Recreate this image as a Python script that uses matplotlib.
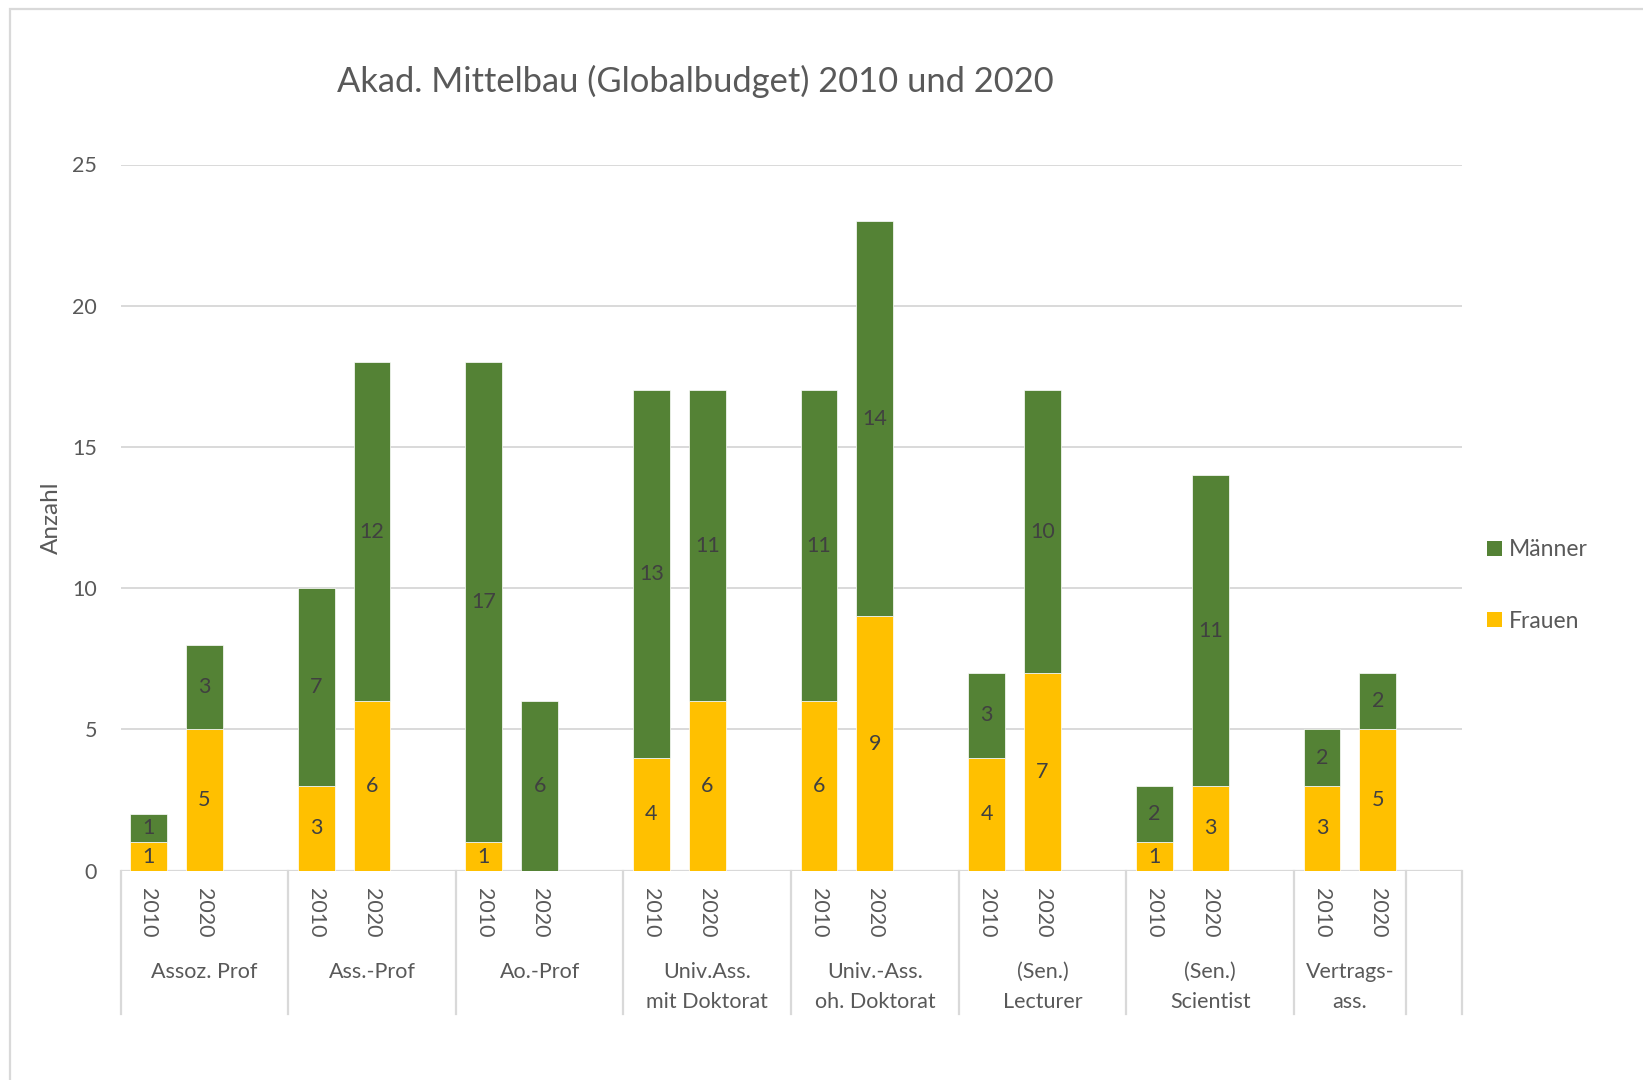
import matplotlib
matplotlib.use("Agg")
import matplotlib.pyplot as plt
import matplotlib.transforms as mtransforms
from matplotlib.patches import Rectangle, Patch

plt.rcParams['font.family'] = ['Lato', 'DejaVu Sans']

# Data
groups = ["Assoz. Prof", "Ass.-Prof", "Ao.-Prof", "Univ.Ass.\nmit Doktorat",
          "Univ.-Ass.\noh. Doktorat", "(Sen.)\nLecturer", "(Sen.)\nScientist",
          "Vertrags-\nass."]
years = ["2010", "2020"]
frauen = [[1, 5], [3, 6], [1, 0], [4, 6], [6, 9], [4, 7], [1, 3], [3, 5]]
maenner = [[1, 3], [7, 12], [17, 6], [13, 11], [11, 14], [3, 10], [2, 11], [2, 2]]
yticks = [0, 5, 10, 15, 20, 25]

GREEN = "#548235"
YELLOW = "#FFC000"
TXT = "#595959"
LBL = "#404040"
GRID = "#D9D9D9"
FS = 15.5

W, H = 1643, 1080
fig = plt.figure(figsize=(W / 100, H / 100), dpi=100)

# outer chart border (top and left visible)
fig.patches.append(Rectangle((10 / W, -0.1), 1.2, 1 - 9 / H + 0.1, transform=fig.transFigure,
                             fill=False, edgecolor=GRID, lw=1.6, zorder=0))

ax_l, ax_r, ax_t, ax_b = 120.5, 1461.7, 164.5, 870.7
ax = fig.add_axes([ax_l / W, 1 - ax_b / H, (ax_r - ax_l) / W, (ax_b - ax_t) / H])

n_slots = 3 * len(groups)
ax.set_xlim(-0.5, n_slots - 0.5)
ax.set_ylim(0, 25)

bw = 0.66
for g in range(len(groups)):
    for j in range(2):
        x = 3 * g + j
        f = frauen[g][j]
        m = maenner[g][j]
        ax.bar(x, f, width=bw, color=YELLOW, edgecolor="white", linewidth=0.5, zorder=3)
        ax.bar(x, m, bottom=f, width=bw, color=GREEN, edgecolor="white", linewidth=0.5, zorder=3)
        if f > 0:
            ax.text(x, f / 2, str(f), ha="center", va="center", color=LBL, fontsize=FS, zorder=4)
        if m > 0:
            ax.text(x, f + m / 2, str(m), ha="center", va="center", color=LBL, fontsize=FS, zorder=4)

# gridlines and axes styling
ax.set_yticks(yticks)
ax.yaxis.grid(True, color=GRID, lw=1.4, zorder=0)
ax.set_axisbelow(True)
for s in ax.spines.values():
    s.set_visible(False)
ax.tick_params(axis="y", length=0, pad=17, labelsize=FS, labelcolor=TXT)
ax.set_xticks([])
ax.axhline(0, color=GRID, lw=1.6, zorder=2)

# multi-level category axis
trans = mtransforms.blended_transform_factory(ax.transData, ax.transAxes)
sep_bottom = -(1014 - ax_b) / (ax_b - ax_t)
year_y = -(888 - ax_b) / (ax_b - ax_t)
grp_y = -(962 - ax_b) / (ax_b - ax_t)
bounds = [3 * g - 0.5 for g in range(len(groups))] + [3 * len(groups) - 1.5, 3 * len(groups) - 0.5]
for b in bounds:
    ax.plot([b, b], [0, sep_bottom], transform=trans, color=GRID, lw=1.6, clip_on=False)
for g, name in enumerate(groups):
    for j, yr in enumerate(years):
        ax.text(3 * g + j, year_y, yr, transform=trans, rotation=-90, ha="center", va="top",
                color=TXT, fontsize=FS)
    cx = 3 * g + 1 if g < len(groups) - 1 else 3 * g + 0.5
    ax.text(cx, grp_y, name, transform=trans, ha="center", va="top", color=TXT,
            fontsize=FS, linespacing=1.6)

# title, axis label, legend
fig.text(695 / W, 1 - 81 / H, "Akad. Mittelbau (Globalbudget) 2010 und 2020", ha="center",
         va="center", color=TXT, fontsize=24.8)
fig.text(51 / W, 1 - 494 * 1.0478 / H, "Anzahl", rotation=90, ha="center", va="center",
         color=TXT, fontsize=17.5)

handles = [Patch(facecolor=GREEN, label="Männer"), Patch(facecolor=YELLOW, label="Frauen")]
fig.legend(handles=handles, loc="center left", bbox_to_anchor=(1476 / W, 1 - 585.5 / H),
           frameon=False, fontsize=16.5, handlelength=0.65, handleheight=0.65,
           handletextpad=0.3, labelspacing=2.2, borderpad=0, labelcolor=TXT)

fig.savefig("out.png", dpi=100, facecolor="white")
